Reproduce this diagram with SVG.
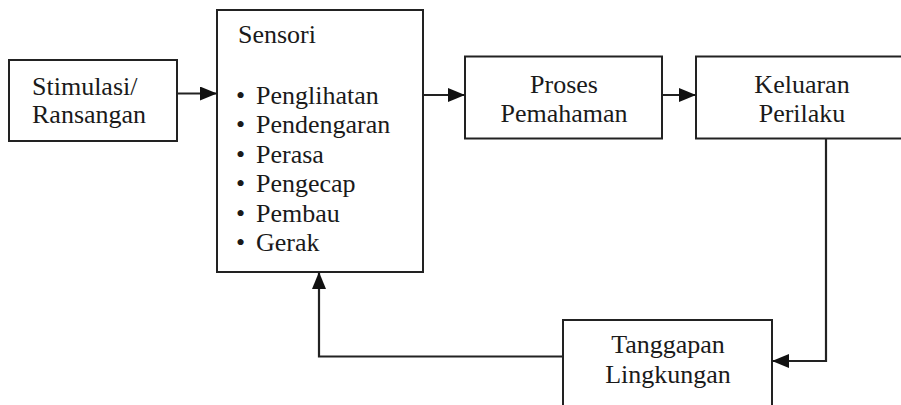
<svg xmlns="http://www.w3.org/2000/svg" width="901" height="405" viewBox="0 0 901 405">
<style>
.box{fill:#fff;stroke:#222;stroke-width:2}
.t{font-family:'Liberation Serif',Tinos,'Noto Serif','DejaVu Serif','Times New Roman',Times,serif;font-size:26px;fill:#1a1a1a}
.c{text-anchor:middle}
.conn{fill:none;stroke:#222;stroke-width:2.2}
</style>
<defs>
<marker id="ah" markerUnits="userSpaceOnUse" markerWidth="18" markerHeight="14" refX="17" refY="7" orient="auto">
<path d="M0,0 L17,7 L0,14 z" fill="#111"/>
</marker>
</defs>
<rect width="901" height="405" fill="#fff"/>
<g id="stimulasi">
<rect class="box" x="9" y="60" width="168" height="81"/>
<text class="t" x="32" y="95">Stimulasi/</text>
<text class="t" x="32" y="123">Ransangan</text>
</g>
<g id="sensori">
<rect class="box" x="217" y="10" width="206" height="262"/>
<text class="t" x="238" y="43">Sensori</text>
<text class="t" y="103.5"><tspan x="236">•</tspan><tspan x="256">Penglihatan</tspan></text>
<text class="t" y="133"><tspan x="236">•</tspan><tspan x="256">Pendengaran</tspan></text>
<text class="t" y="162.5"><tspan x="236">•</tspan><tspan x="256">Perasa</tspan></text>
<text class="t" y="192"><tspan x="236">•</tspan><tspan x="256">Pengecap</tspan></text>
<text class="t" y="221.5"><tspan x="236">•</tspan><tspan x="256">Pembau</tspan></text>
<text class="t" y="251"><tspan x="236">•</tspan><tspan x="256">Gerak</tspan></text>
</g>
<g id="proses">
<rect class="box" x="465" y="56.5" width="197" height="82"/>
<text class="t c" x="564" y="93">Proses</text>
<text class="t c" x="564" y="121.5">Pemahaman</text>
</g>
<g id="keluaran">
<rect class="box" x="696" y="56.5" width="212" height="82"/>
<text class="t c" x="802" y="92.5">Keluaran</text>
<text class="t c" x="802" y="121.5">Perilaku</text>
</g>
<g id="tanggapan">
<rect class="box" x="563" y="320" width="209" height="100"/>
<text class="t c" x="668" y="353">Tanggapan</text>
<text class="t c" x="668" y="383">Lingkungan</text>
</g>
<g id="connectors">
<line class="conn" x1="177" y1="93.5" x2="217" y2="93.5" marker-end="url(#ah)"/>
<line class="conn" x1="423" y1="95" x2="465" y2="95" marker-end="url(#ah)"/>
<line class="conn" x1="662" y1="95" x2="696" y2="95" marker-end="url(#ah)"/>
<path class="conn" d="M826,138.5 V361 H772" marker-end="url(#ah)"/>
<path class="conn" d="M563,356.5 H319 V272" marker-end="url(#ah)"/>
</g>
</svg>
